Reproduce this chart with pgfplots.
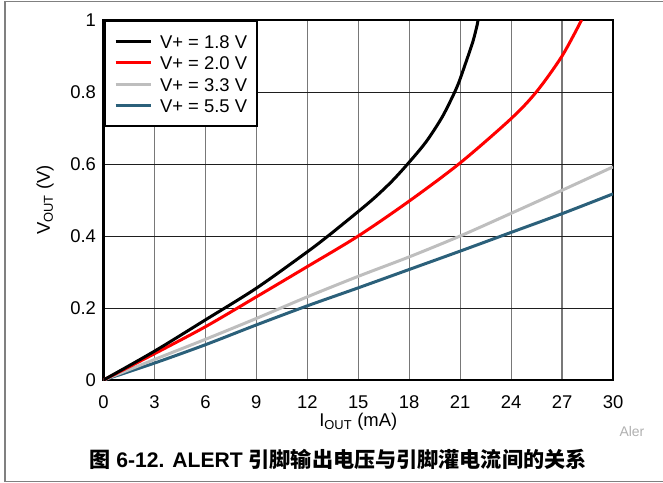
\documentclass[border=0pt]{standalone}
\usepackage{pgfplots}
\pgfplotsset{compat=1.18}
\usepackage{fontspec}
\setmainfont{Liberation Sans}
\newfontfamily\cjk{Noto Sans CJK SC}
\definecolor{tiblue}{RGB}{43,96,122}
\definecolor{tigray}{RGB}{190,190,190}
\definecolor{framegray}{RGB}{128,128,128}
\definecolor{vgrid}{RGB}{120,120,120}
\definecolor{hgrid}{RGB}{30,30,30}
\begin{document}
\begin{tikzpicture}
\useasboundingbox (0,0) rectangle (663bp,-483bp);
\draw[framegray, line width=1.3bp] (670bp,-1.5bp) -- (5bp,-1.5bp) -- (5bp,-481.5bp) -- (670bp,-481.5bp);
\begin{axis}[
  at={(103.5bp,-380bp)}, anchor=south west,
  scale only axis, width=509.5bp, height=360bp,
  xmin=0, xmax=30, ymin=0, ymax=1,
  xtick={0,3,6,9,12,15,18,21,24,27,30},
  ytick={0,0.2,0.4,0.6,0.8,1},
  yticklabels={0,0.2,0.4,0.6,0.8,1},
  major tick length=0pt,
  /pgf/number format/assume math mode=true,
  tick label style={font=\fontsize{18.5}{22}\selectfont},
  xticklabel style={yshift=-12bp},
  yticklabel style={xshift=-4bp},
  grid=major,
  x grid style={vgrid, line width=1.2bp},
  y grid style={hgrid, line width=1bp},
  axis line style={black, line width=2.6bp},
  xlabel={I\textsubscript{OUT} (mA)},
  ylabel={V\textsubscript{OUT} (V)},
  label style={font=\fontsize{18.5}{22}\selectfont},
  xlabel style={at={(axis description cs:0.5,0)}, anchor=center, yshift=-42bp},
  ylabel style={at={(axis description cs:-0.1148,0.5)}, anchor=center},
  legend style={at={(0,1)}, anchor=north west, draw=black, line width=2bp, fill=white,
    font=\fontsize{18.5}{22}\selectfont, inner xsep=9.5bp, inner ysep=9.3bp,
    nodes={inner sep=0pt, text height=18bp, text depth=3.8bp},
    row sep=-0.3bp, column sep=8bp, cells={anchor=west}},
  legend image code/.code={\draw[#1, line width=3bp] (0bp,0bp) -- (35bp,0bp);},
  every axis plot/.append style={line width=3bp},
]
\addplot[tiblue, smooth] coordinates {(0,0) (3,0.047) (6,0.098) (9,0.153) (12,0.206) (15,0.256) (18,0.307) (21,0.358) (24,0.41) (27,0.462) (30,0.517)};
\addplot[tigray, smooth] coordinates {(0,0) (3,0.057) (6,0.113) (9,0.171) (12,0.231) (15,0.288) (18,0.342) (21,0.4) (24,0.463) (27,0.527) (30,0.592)};
\addplot[red, smooth] coordinates {(0,0) (3,0.073) (6,0.148) (9,0.231) (12,0.315) (15,0.4) (18,0.497) (21,0.603) (24,0.726) (25.5,0.801) (27,0.9) (28.15,1.0)};
\addplot[black, smooth] coordinates {(0,0) (3,0.080) (6,0.167) (9,0.255) (12,0.356) (13.3,0.403) (15,0.468) (16,0.508) (17,0.553) (18,0.605) (19.0,0.662) (19.9,0.727) (20.5,0.782) (20.9,0.824) (21.35,0.884) (21.75,0.94) (22.0,0.986) (22.05,1.0)};
\addlegendimage{black, line width=3bp}
\addlegendimage{red, line width=3bp}
\addlegendimage{tigray, line width=3bp}
\addlegendimage{tiblue, line width=3bp}
\legend{,,,,V+ = 1.8 V, V+ = 2.0 V, V+ = 3.3 V, V+ = 5.5 V}
\end{axis}
\node[font=\bfseries\fontsize{21.2}{25}\selectfont] at (338bp,-459bp) {{\cjk 图} 6-12. ALERT {\cjk 引脚输出电压与引脚灌电流间的关系}};
\node[color={rgb,255:red,176;green,176;blue,176}, font=\fontsize{14}{16}\selectfont, anchor=west] at (616bp,-432bp) {Aler};
\end{tikzpicture}
\end{document}
